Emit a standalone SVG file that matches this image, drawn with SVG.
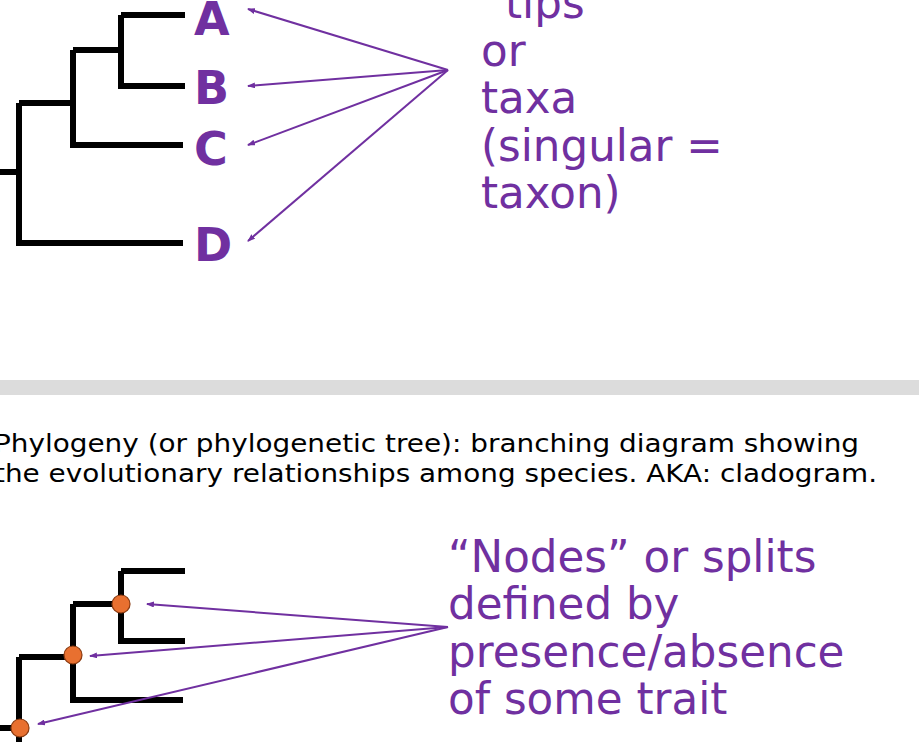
<svg xmlns="http://www.w3.org/2000/svg" width="919" height="742" viewBox="0 0 919 742">
<style>
.br{fill:none;stroke:#000;stroke-width:6;stroke-linejoin:miter}
.ar{stroke:#7030a0;stroke-width:2;fill:none;marker-end:url(#ah)}
.lab{font-family:"DejaVu Sans",sans-serif;font-weight:bold;font-size:46px;fill:#7030a0}
.pt{font-family:"DejaVu Sans",sans-serif;font-size:43.6px;fill:#7030a0}
.bt{font-family:"DejaVu Sans",sans-serif;font-size:25px;fill:#000}
.nd{fill:#e87030;stroke:#8a3a10;stroke-width:1.2}
</style>
<defs><marker id="ah" markerWidth="8" markerHeight="6" refX="7" refY="3" orient="auto" markerUnits="userSpaceOnUse"><path d="M0,0L8,3L0,6Z" fill="#7030a0"/></marker></defs>
<rect width="919" height="742" fill="#fff"/>
<g id="tree1">
<path class="br" d="M121,15H185M121,15V86H185M73,50H121M73,50V145H183M19,103H73M19,103V243H183M0,172H19"/>
</g>
<g id="labels1">
<text class="lab" x="194" y="35">A</text>
<text class="lab" x="194" y="104">B</text>
<text class="lab" x="194" y="165">C</text>
<text class="lab" x="194" y="261">D</text>
</g>
<g id="tipsText">
<text class="pt" x="505" y="18">tips</text>
<text class="pt" x="481" y="66">or</text>
<text class="pt" x="481" y="113">taxa</text>
<text class="pt" x="481" y="161">(singular =</text>
<text class="pt" x="481" y="208">taxon)</text>
</g>
<rect x="0" y="380" width="919" height="15" fill="#dcdcdc"/>
<g id="def">
<text class="bt" x="-6" y="452" textLength="865" lengthAdjust="spacingAndGlyphs">Phylogeny (or phylogenetic tree): branching diagram showing</text>
<text class="bt" x="-6" y="482" textLength="883" lengthAdjust="spacingAndGlyphs">the evolutionary relationships among species. AKA: cladogram.</text>
</g>
<g id="tree2">
<path class="br" d="M121,571H185M121,571V641H185M73,604H121M73,604V700H183M19,657H73M19,657V742M0,728H19"/>
<circle class="nd" cx="121" cy="604" r="9"/>
<circle class="nd" cx="73" cy="655" r="9"/>
<circle class="nd" cx="20" cy="728" r="9"/>
</g>
<g id="nodesText">
<text class="pt" x="448" y="572">“Nodes” or splits</text>
<text class="pt" x="448" y="619">defined by</text>
<text class="pt" x="448" y="667">presence/absence</text>
<text class="pt" x="448" y="714">of some trait</text>
</g>
<g id="connectors">
<line class="ar" x1="448" y1="70" x2="248" y2="9"/>
<line class="ar" x1="448" y1="70" x2="248" y2="86"/>
<line class="ar" x1="448" y1="70" x2="248" y2="145"/>
<line class="ar" x1="448" y1="70" x2="248" y2="241"/>
<line class="ar" x1="448" y1="627" x2="147" y2="604"/>
<line class="ar" x1="448" y1="627" x2="90" y2="656"/>
<line class="ar" x1="448" y1="627" x2="38" y2="724"/>
</g>
</svg>
